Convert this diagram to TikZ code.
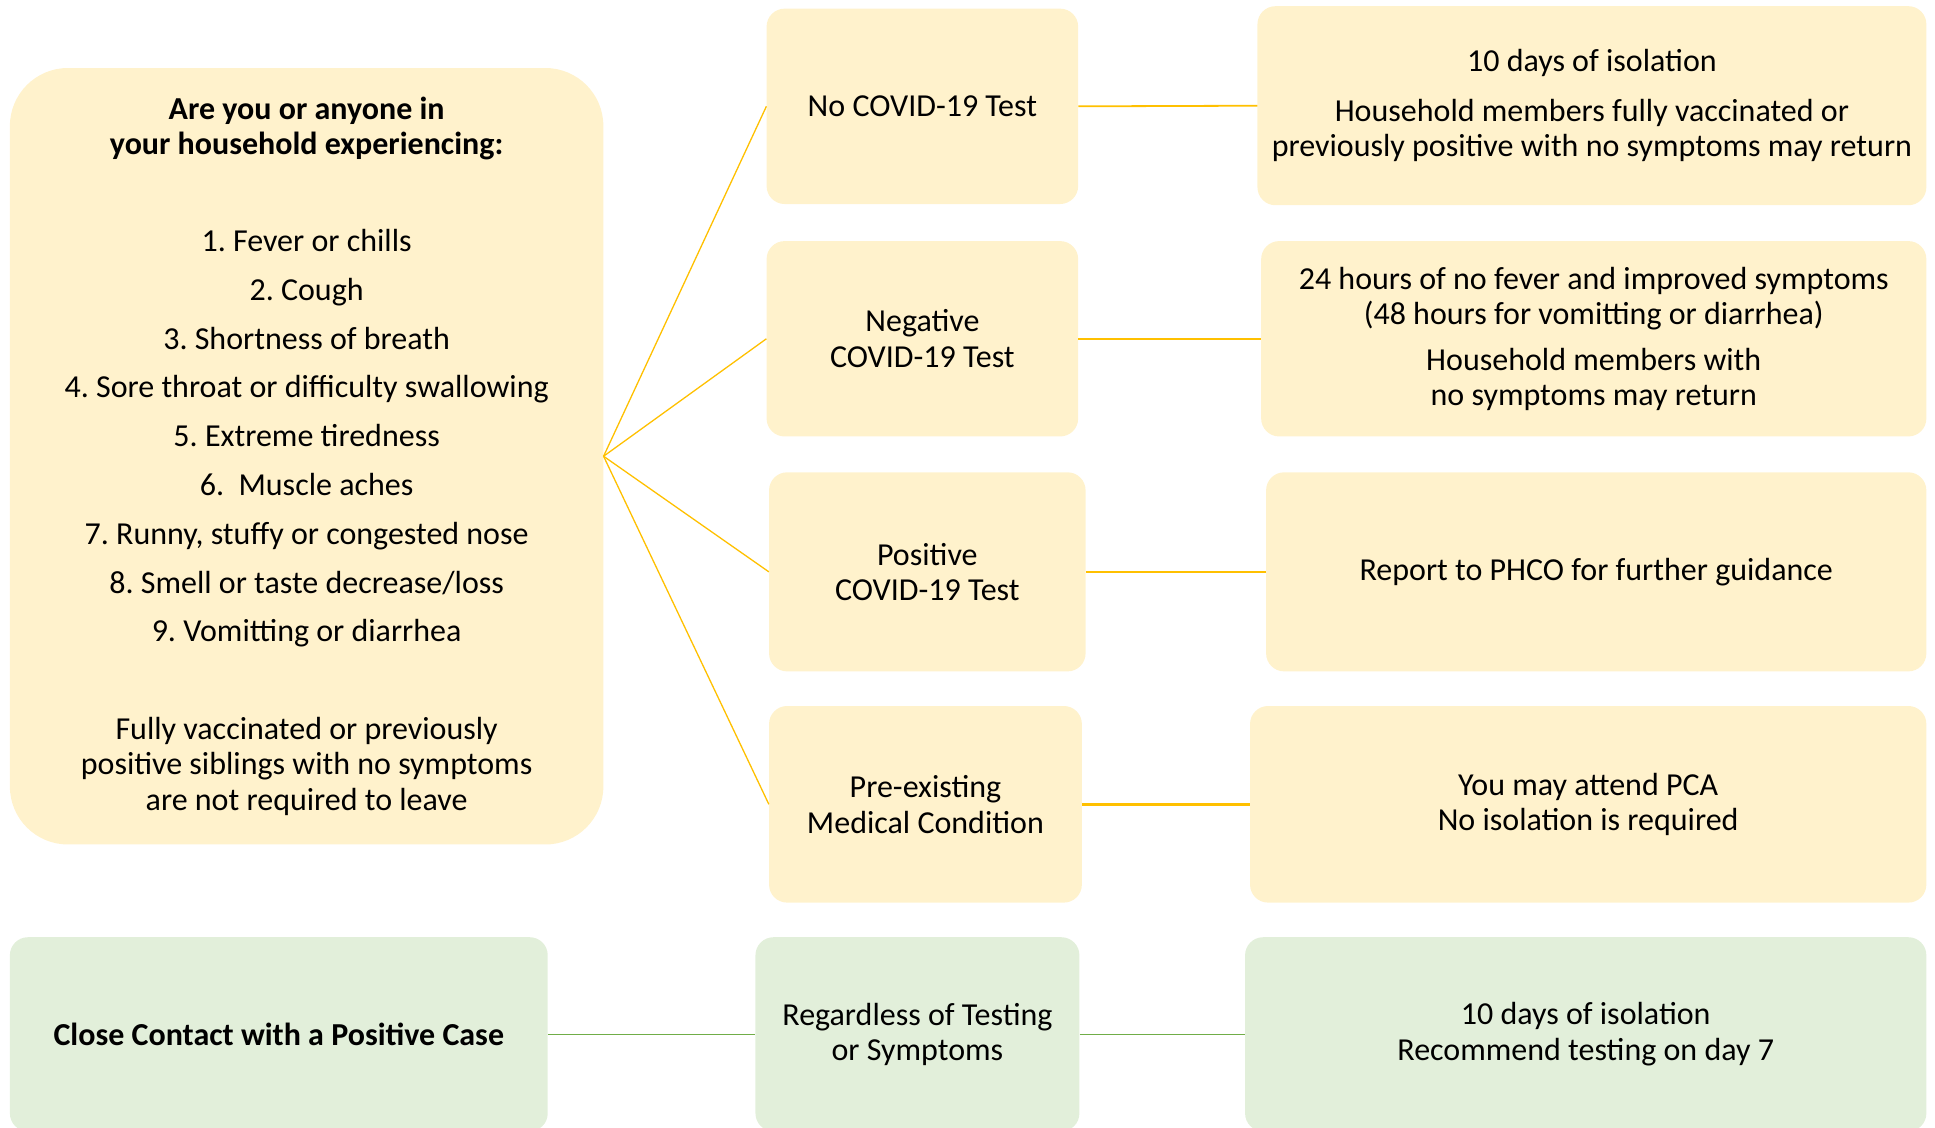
\documentclass[tikz,border=0pt]{standalone}
\usepackage{fontspec}
\setmainfont{Carlito}
\frenchspacing
\definecolor{yfill}{HTML}{FFF2CC}
\definecolor{gfill}{HTML}{E2EFDA}
\definecolor{goldline}{HTML}{FFC000}
\definecolor{greenline}{HTML}{70AD47}
\newlength\myu
\setlength\myu{1.2364bp}
\begin{document}
\begin{tikzpicture}[x=1.2364bp, y=-1.2364bp,
  txt/.style={font=\fontsize{32bp}{35.5bp}\selectfont\frenchspacing, align=center, inner sep=0pt},
  yellowbox/.style={txt, fill=yfill, rounded corners=18bp},
  greenbox/.style={txt, fill=gfill, rounded corners=18bp},
  bigbox/.style={txt, fill=yfill, rounded corners=58bp},
  yline/.style={draw=goldline, line width=1.3bp},
  yhline/.style={draw=goldline, line width=1.8bp},
  ythick/.style={draw=goldline, line width=2.8bp},
  gconn/.style={draw=greenline, line width=1.3bp}]
\path[use as bounding box] (0,0) rectangle (1565,912.3);
\clip (0,0) rectangle (1565,912.3);

% left big box
\node[bigbox, minimum width=480\myu, minimum height=628\myu] (L) at (248,369)
 {\textbf{Are you or anyone in}\\
  \textbf{your household experiencing:}\\[61bp]
  1. Fever or chills\\[13.3bp]
  2. Cough\\[13.3bp]
  3. Shortness of breath\\[13.3bp]
  4. Sore throat or difficulty swallowing\\[13.3bp]
  5. Extreme tiredness\\[13.3bp]
  6.\ \ Muscle aches\\[13.3bp]
  7. Runny, stuffy or congested nose\\[13.3bp]
  8. Smell or taste decrease/loss\\[13.3bp]
  9. Vomitting or diarrhea\\[62bp]
  Fully vaccinated or previously\\
  positive siblings with no symptoms\\
  are not required to leave};

% middle column
\node[yellowbox, minimum width=252\myu, minimum height=158\myu] (n1) at (746,86) {No COVID-19 Test};
\node[yellowbox, minimum width=252\myu, minimum height=158\myu] (n2) at (746,274) {Negative\\COVID-19 Test};
\node[yellowbox, minimum width=256\myu, minimum height=161\myu] (n3) at (750,462.5) {Positive\\COVID-19 Test};
\node[yellowbox, minimum width=253\myu, minimum height=159\myu] (n4) at (748.5,650.5) {Pre-existing\\Medical Condition};

% right column
\node[yellowbox, minimum width=541\myu, minimum height=161\myu] (r1) at (1287.5,85.5)
 {10 days of isolation\\[14bp]Household members fully vaccinated or\\previously positive with no symptoms may return};
\node[yellowbox, minimum width=538\myu, minimum height=158\myu] (r2) at (1289,274)
 {24 hours of no fever and improved symptoms\\(48 hours for vomitting or diarrhea)\\[10bp]Household members with\\no symptoms may return};
\node[yellowbox, minimum width=534\myu, minimum height=161\myu] (r3) at (1291,462.5)
 {Report to PHCO for further guidance};
\node[yellowbox, minimum width=547\myu, minimum height=159\myu] (r4) at (1284.5,650.5)
 {You may attend PCA\\No isolation is required};

% bottom row
\node[greenbox, minimum width=435\myu, minimum height=157\myu] (c1) at (225.5,836.5)
 {\textbf{Close Contact with a Positive Case}};
\node[greenbox, minimum width=262\myu, minimum height=157\myu] (c2) at (742,836.5)
 {Regardless of Testing\\or Symptoms};
\node[greenbox, minimum width=551\myu, minimum height=157\myu] (c3) at (1282.5,836.5)
 {10 days of isolation\\Recommend testing on day 7};

% connectors
\draw[yline] (L.east) -- (n1.west);
\draw[yline] (L.east) -- (n2.west);
\draw[yline] (L.east) -- (n3.west);
\draw[yline] (L.east) -- (n4.west);
\draw[yhline] (n1.east) -- (r1.west);
\draw[yhline] (n2.east) -- (r2.west);
\draw[yhline] (n3.east) -- (r3.west);
\draw[ythick] (n4.east) -- (r4.west);
\draw[gconn] (c1.east) -- (c2.west);
\draw[gconn] (c2.east) -- (c3.west);
\end{tikzpicture}
\end{document}
